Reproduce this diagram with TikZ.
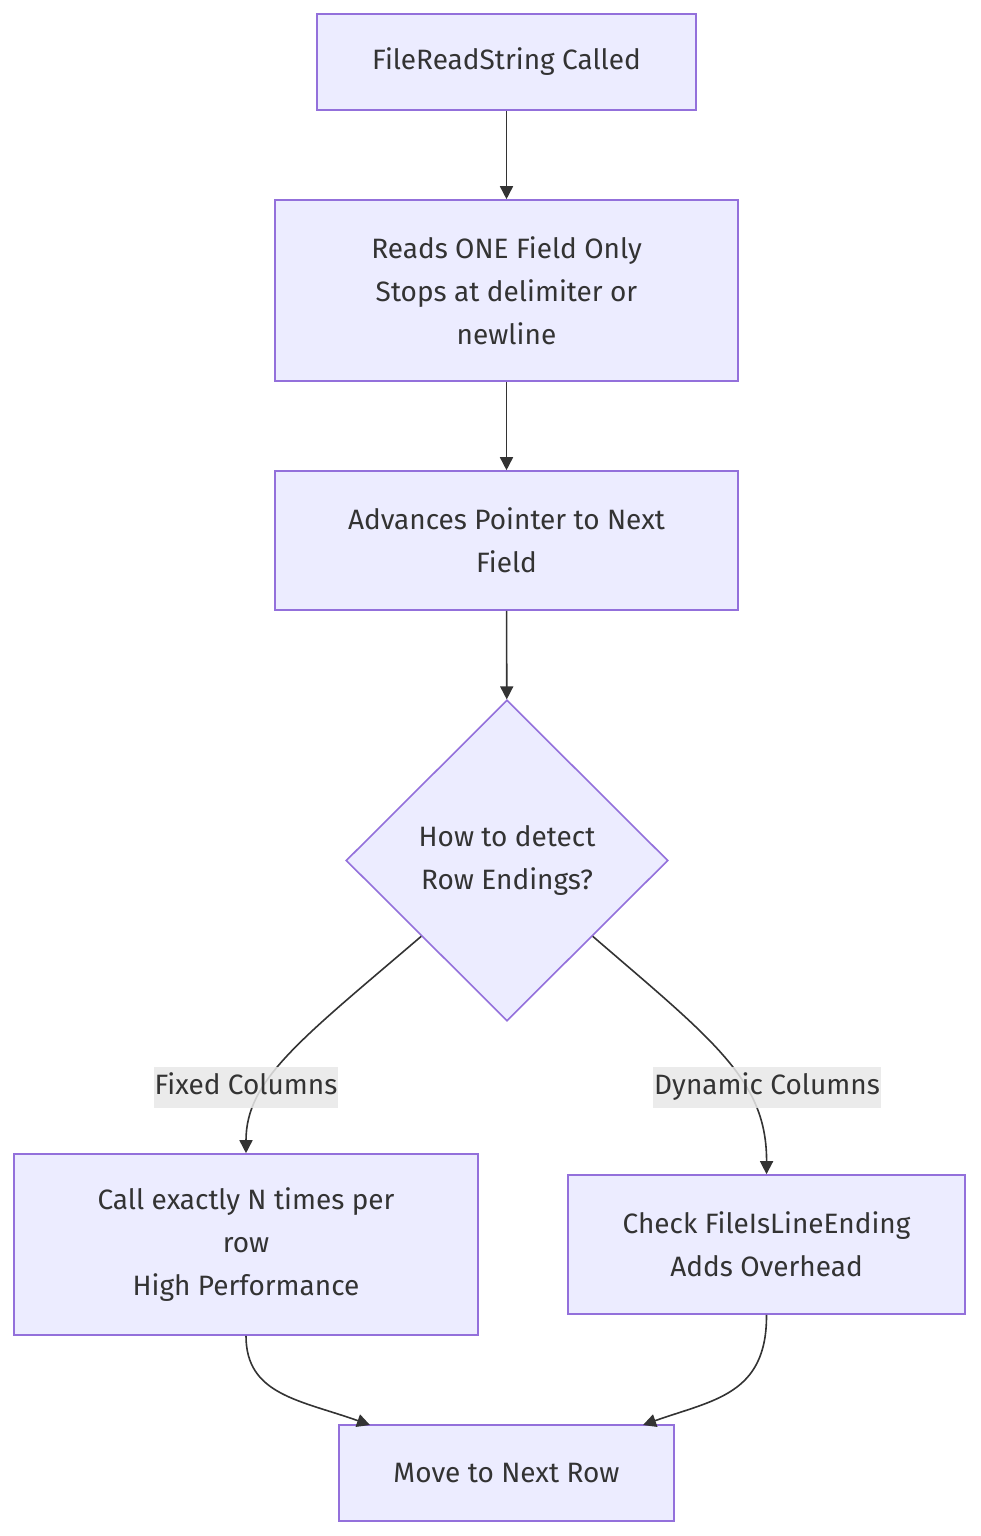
\documentclass[tikz,border=0pt]{standalone}
\usepackage{fontspec}
\setmainfont{Fira Sans}
\usepackage{tikz}
\usetikzlibrary{arrows.meta, shapes.geometric, calc}
\definecolor{boxfill}{HTML}{ECECFF}
\definecolor{boxline}{HTML}{9370DB}
\definecolor{ink}{HTML}{333333}
\definecolor{lblbg}{HTML}{E8E8E8}

\begin{document}
\begin{tikzpicture}[
      x=1pt, y=-1pt,
      every node/.style={font=\fontsize{28}{43}\selectfont, text=ink},
      box/.style={draw=boxline, fill=boxfill, line width=1.6pt,
                  align=center, inner sep=0pt},
      choice/.style={diamond, draw=boxline, fill=boxfill, line width=1.6pt,
                     align=center, inner sep=0pt, minimum width=322pt,
                     minimum height=321pt},
      lbl/.style={fill=lblbg, fill opacity=0.85, text opacity=1,
                  inner sep=1pt, text height=21pt, text depth=7pt,
                  minimum height=41pt},
      ar/.style={-{Triangle[length=13pt,width=13pt]}, line width=1.6pt, color=ink}
    ]
      \useasboundingbox (0,0) rectangle (980,1536);

      % main column
      \node[box, minimum width=379pt, minimum height=96pt]  (call)  at (506.5,62)    {FileReadString Called};
      \node[box, minimum width=463pt, minimum height=181pt] (reads) at (506.5,290.5) {Reads ONE Field Only\\Stops at delimiter or\\newline};
      \node[box, minimum width=463pt, minimum height=139pt] (adv)   at (506.5,540.5) {Advances Pointer to Next\\Field};
      \node[choice] (how) at (507,860.5) {How to detect\\Row Endings?};
      \draw[ar] (call)--(reads);
      \draw[ar] (reads)--(adv);
      \draw[ar] (adv)--(how);

      % two branches
      \node[box, minimum width=464pt, minimum height=181pt] (fixed) at (246,1244.5)   {Call exactly N times per\\row\\High Performance};
      \node[box, minimum width=397pt, minimum height=139pt] (dyn)   at (766.5,1244.5) {Check FileIsLineEnding\\Adds Overhead};
      \coordinate (howl) at ($(how.west)!0.47!(how.south)$);
      \coordinate (howr) at ($(how.east)!0.47!(how.south)$);
      \draw[ar] (howl) .. controls (300,1040) and (246,1080) .. (fixed.north);
      \draw[ar] (howr) .. controls (713,1040) and (767,1080) .. (dyn.north);
      \node[lbl] (fixlbl) at (246,1087) {Fixed Columns};
      \node[lbl] (dynlbl) at (767,1087) {Dynamic Columns};

      % join
      \node[box, minimum width=335pt, minimum height=96pt] (next) at (506.5,1473) {Move to Next Row};
      \coordinate (nextl) at (370,1425);
      \coordinate (nextr) at (643,1425);
      \draw[ar] (fixed.south) .. controls (246,1395) and (300,1400) .. (nextl);
      \draw[ar] (dyn.south) .. controls (767,1395) and (713,1400) .. (nextr);
    \end{tikzpicture}
\end{document}
